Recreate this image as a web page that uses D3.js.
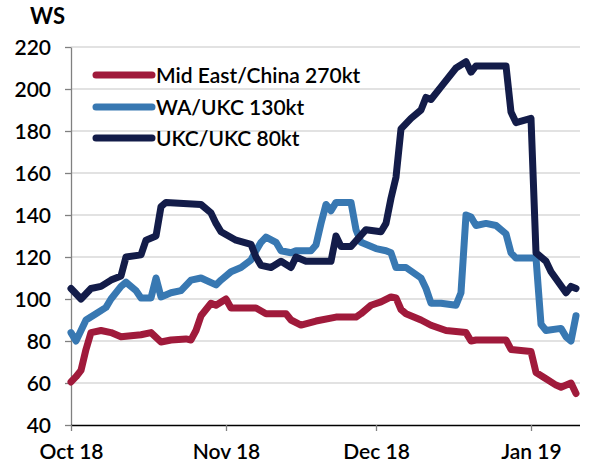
<!DOCTYPE html>
<html>
<head>
<meta charset="utf-8">
<script src="https://cdn.jsdelivr.net/npm/d3@7"></script>
<style>
  html, body { margin: 0; padding: 0; background: #fff; }
  svg { display: block; font-family: Lato, "Open Sans", sans-serif; }
</style>
</head>
<body>
<svg id="chart" width="592" height="467"></svg>
<script>
// ---- data ----
const yTicks = [40, 60, 80, 100, 120, 140, 160, 180, 200, 220];
const xTickDates = ["2018-10-01", "2018-11-01", "2018-12-01", "2019-01-01"];
const xTickLabels = ["Oct 18", "Nov 18", "Dec 18", "Jan 19"];
const seriesNames = ["Mid East/China 270kt", "WA/UKC 130kt", "UKC/UKC 80kt"];

const midEastDates = ["2018-10-01","2018-10-02","2018-10-03","2018-10-04","2018-10-05","2018-10-07","2018-10-09","2018-10-11","2018-10-15","2018-10-17","2018-10-19","2018-10-21","2018-10-24","2018-10-25","2018-10-26","2018-10-27","2018-10-29","2018-10-30","2018-11-01","2018-11-02","2018-11-07","2018-11-09","2018-11-13","2018-11-14","2018-11-16","2018-11-19","2018-11-23","2018-11-27","2018-11-28","2018-11-30","2018-12-02","2018-12-04","2018-12-05","2018-12-06","2018-12-07","2018-12-10","2018-12-12","2018-12-15","2018-12-19","2018-12-20","2018-12-21","2018-12-27","2018-12-28","2019-01-01","2019-01-02","2019-01-04","2019-01-06","2019-01-07","2019-01-09","2019-01-10"];
const midEastValues = [60.5,63,66,76,84,85,84,82,83,84,79.5,80.5,81,80.5,85,92,98,97,100,95.7,95.7,93,93,90,87.6,89.5,91.4,91.4,93,97,98.6,101,100.5,95,93,90,87.5,85,84,80,80.5,80.5,76,75,65,62,59,58,60,55];

const waUkcDates = ["2018-10-01","2018-10-02","2018-10-04","2018-10-06","2018-10-08","2018-10-09","2018-10-11","2018-10-12","2018-10-14","2018-10-15","2018-10-17","2018-10-18","2018-10-19","2018-10-21","2018-10-23","2018-10-25","2018-10-27","2018-10-30","2018-10-31","2018-11-02","2018-11-04","2018-11-06","2018-11-07","2018-11-08","2018-11-09","2018-11-11","2018-11-12","2018-11-14","2018-11-15","2018-11-18","2018-11-19","2018-11-20","2018-11-21","2018-11-22","2018-11-23","2018-11-26","2018-11-27","2018-11-28","2018-12-01","2018-12-03","2018-12-04","2018-12-05","2018-12-07","2018-12-10","2018-12-11","2018-12-12","2018-12-14","2018-12-17","2018-12-18","2018-12-19","2018-12-20","2018-12-21","2018-12-23","2018-12-25","2018-12-27","2018-12-28","2018-12-29","2019-01-02","2019-01-03","2019-01-04","2019-01-07","2019-01-08","2019-01-09","2019-01-10"];
const waUkcValues = [84,80,90,93,96,100,106,108,104,100.5,100.5,110,101,103,104,109,110,106.7,109,113,115,118.6,123,127,129.5,127,123,122,123,123,125.7,136,145,142,146,146,133,127,124,123,122,115,115,110,105,98,98,97,103,140,139,135,136,135,131,122,119.5,119.5,88,85,86,82,80,92];

const ukcUkcDates = ["2018-10-01","2018-10-03","2018-10-05","2018-10-07","2018-10-09","2018-10-11","2018-10-12","2018-10-15","2018-10-16","2018-10-18","2018-10-19","2018-10-20","2018-10-27","2018-10-29","2018-10-30","2018-10-31","2018-11-03","2018-11-06","2018-11-07","2018-11-08","2018-11-10","2018-11-12","2018-11-14","2018-11-15","2018-11-17","2018-11-22","2018-11-23","2018-11-24","2018-11-26","2018-11-29","2018-12-02","2018-12-03","2018-12-04","2018-12-05","2018-12-06","2018-12-08","2018-12-10","2018-12-11","2018-12-12","2018-12-14","2018-12-17","2018-12-19","2018-12-20","2018-12-21","2018-12-27","2018-12-28","2018-12-29","2019-01-01","2019-01-02","2019-01-04","2019-01-05","2019-01-08","2019-01-09","2019-01-10"];
const ukcUkcValues = [105,100,105,106,109,111,120,121,128,130,144,146,145,141,136,132,128,126,120,116,115,118,115,120,118,118,130,125,125,133,132,136,148,158,181,186,190,196,195,201,210,213,208,211,211,189,184,186,122,118,113,103,106,105];

const colors = ["#A01A3B", "#3878B2", "#131C49"];

// ---- chart ----
const svg = d3.select("#chart");
const parse = d3.timeParse("%Y-%m-%d");
const plotLeft = 71, plotRight = 581, plotTop = 47, plotBottom = 425;

const x = d3.scaleTime()
  .domain([parse("2018-10-01"), parse("2019-01-11")])
  .range([plotLeft, plotRight]);
const y = d3.scaleLinear().domain([40, 220]).range([plotBottom, plotTop]);

// gridlines
svg.append("g")
  .selectAll("line")
  .data(yTicks.filter(d => d > 40))
  .join("line")
  .attr("x1", plotLeft).attr("x2", 580)
  .attr("y1", d => y(d)).attr("y2", d => y(d))
  .attr("stroke", "#d9d9d9").attr("stroke-width", 1.5);

// y axis
const yAxis = svg.append("g")
  .attr("transform", `translate(${plotLeft},0)`)
  .call(d3.axisLeft(y).tickValues(yTicks).tickSize(6).tickPadding(14).tickSizeOuter(0));
yAxis.select(".domain").attr("stroke", "#808080").attr("stroke-width", 1.3);
yAxis.selectAll(".tick line").attr("stroke", "#808080").attr("stroke-width", 1.3);
yAxis.selectAll("text")
  .attr("fill", "#000").attr("font-size", 21).attr("font-weight", 600)
  .attr("font-family", "Lato, sans-serif").attr("dy", "0.36em");

// x axis
const xAxis = svg.append("g")
  .attr("transform", `translate(0,${plotBottom})`)
  .call(d3.axisBottom(x)
    .tickValues(xTickDates.map(parse))
    .tickFormat((d, i) => xTickLabels[i])
    .tickSize(6).tickPadding(13).tickSizeOuter(0));
xAxis.select(".domain").attr("d", `M${plotLeft},0.5H580`).attr("stroke", "#000").attr("stroke-width", 1.5);
xAxis.selectAll(".tick line").attr("stroke", "#808080").attr("stroke-width", 1.3);
xAxis.selectAll("text")
  .attr("fill", "#000").attr("font-size", 21).attr("font-weight", 600)
  .attr("font-family", "Lato, sans-serif");

// unit label
svg.append("text").attr("x", 30).attr("y", 24)
  .attr("font-size", 22).attr("font-weight", 700).attr("font-family", "Lato, sans-serif")
  .text("WS");

// lines
const line = d3.line().x(d => x(d[0])).y(d => y(d[1]));
const seriesData = [
  midEastDates.map((d, i) => [parse(d), midEastValues[i]]),
  waUkcDates.map((d, i) => [parse(d), waUkcValues[i]]),
  ukcUkcDates.map((d, i) => [parse(d), ukcUkcValues[i]])
];
svg.append("g").selectAll("path")
  .data([0, 1, 2])
  .join("path")
  .attr("d", i => line(seriesData[i]))
  .attr("fill", "none")
  .attr("stroke", i => colors[i])
  .attr("stroke-width", 7)
  .attr("stroke-linejoin", "round")
  .attr("stroke-linecap", "round");

// legend
const legend = svg.append("g");
const legendY = [75, 107, 138];
seriesNames.forEach((name, i) => {
  legend.append("line")
    .attr("x1", 96).attr("x2", 152)
    .attr("y1", legendY[i]).attr("y2", legendY[i])
    .attr("stroke", colors[i]).attr("stroke-width", 7).attr("stroke-linecap", "round");
  legend.append("text")
    .attr("x", 156).attr("y", legendY[i]).attr("dy", "0.36em")
    .attr("font-size", 21).attr("font-weight", 600).attr("font-family", "Lato, sans-serif")
    .text(name);
});
</script>
</body>
</html>
